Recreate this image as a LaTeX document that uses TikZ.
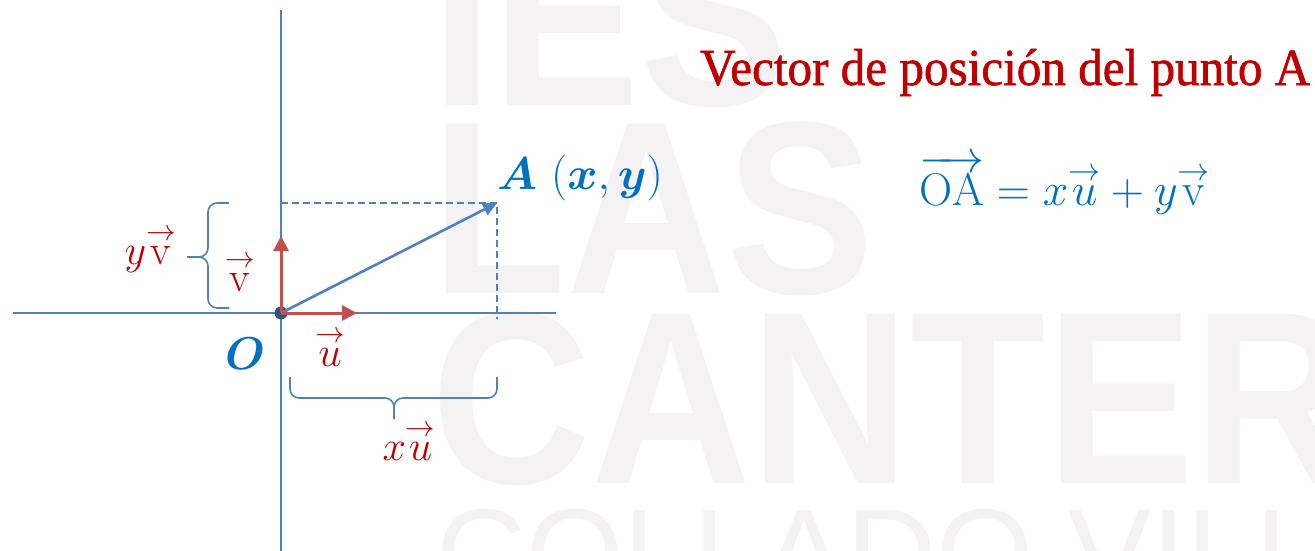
\RequirePackage{fix-cm}
\documentclass[tikz,border=0pt]{standalone}
\usepackage{amsmath,bm}
\usepackage{fontspec}
\usetikzlibrary{arrows.meta}
\newfontfamily\wmfont{Liberation Sans}
\newfontfamily\titlefont[FakeBold=1.2]{Liberation Serif}
\newcommand{\arr}[1]{\overset{\scriptstyle\rightarrow}{#1}}
\definecolor{axisblue}{RGB}{79,129,189}
\definecolor{txtblue}{RGB}{0,112,192}
\definecolor{txtred}{RGB}{192,0,0}
\definecolor{arrred}{RGB}{192,80,77}
\definecolor{dotblue}{RGB}{46,84,130}
\definecolor{wmgray}{RGB}{244,242,243}
\tikzset{
  wm/.style={text=wmgray, inner sep=0pt, font=\wmfont\bfseries\fontsize{246}{250}\selectfont, xscale=0.9},
  wmthin/.style={text=wmgray, inner sep=0pt, font=\wmfont\fontsize{125}{130}\selectfont},
  axis/.style={draw=axisblue, line width=1.6pt},
  redvec/.style={draw=arrred, line width=3pt, -{Triangle[length=15pt,width=15pt]}},
  bluevec/.style={draw=axisblue, line width=2.6pt, -{Triangle[length=14pt,width=13pt]}},
  guide/.style={draw=axisblue, line width=1.4pt, dash pattern=on 7pt off 4pt},
  bracestyle/.style={draw=axisblue, line width=1.6pt, rounded corners=9pt},
  redlbl/.style={text=txtred, inner sep=0pt, font=\fontsize{42}{46}\selectfont},
  bluelbl/.style={text=txtblue, inner sep=0pt, font=\fontsize{46}{50}\selectfont},
}
\begin{document}
\begin{tikzpicture}[x=1pt,y=-1pt]
\useasboundingbox (0,0) rectangle (1315,551);
\fill[white] (0,0) rectangle (1315,551);
% watermark
\begin{scope}
\clip (0,0) rectangle (1315,551);
\node[wm, anchor=base west] (wm1) at (431,105) {IES};
\node[wm, anchor=base west] (wm2) at (431,293) {LAS};
\node[wm, anchor=base west] (wm3) at (431,483) {CANTERAS};
\node[wmthin, anchor=base west] (wm4) at (436,596) {COLLADO VILLALBA};
\end{scope}
% coordinates
\coordinate (O) at (281,313);
\coordinate (ytop) at (281,10);
\coordinate (ybot) at (281,551);
\coordinate (xl) at (13,313);
\coordinate (xr) at (556,313);
\coordinate (U) at (357,313);
\coordinate (V) at (281,236);
\coordinate (A) at (497,203);
\coordinate (Ay) at (281,203);
\coordinate (Ax) at (497,319);
% axes
\draw[axis] (ytop) -- (ybot);
\draw[axis] (xl) -- (xr);
% guides
\draw[guide] (Ay) -- (A) -- (Ax);
% origin dot
\fill[dotblue] (O) circle (6.5pt);
% vectors
\draw[bluevec] (O) -- (A);
\draw[redvec] (O) -- (U);
\draw[redvec] (O) -- (V);
% left brace
\coordinate (lb1) at (229,203);
\coordinate (lb2) at (229,308);
\coordinate (lbtip) at (187,257);
\draw[bracestyle] (lb1) -- (208,203) -- (208,257) -- (lbtip);
\draw[bracestyle] (lb2) -- (208,308) -- (208,257) -- (lbtip);
% bottom brace
\coordinate (bb1) at (290,377);
\coordinate (bb2) at (497,377);
\coordinate (bbtip) at (394,419);
\draw[bracestyle] (bb1) -- (290,398) -- (394,398) -- (bbtip);
\draw[bracestyle] (bb2) -- (497,398) -- (394,398) -- (bbtip);
% labels
\node[redlbl, anchor=base] (lyv) at (150,264) {$y\arr{\mathrm{v}}$};
\node[redlbl, anchor=base] (lv) at (240,291) {$\arr{\mathrm{v}}$};
\node[redlbl, anchor=base] (lu) at (330,366) {$\arr{u}$};
\node[redlbl, anchor=base] (lxu) at (409,460) {$x\arr{u}$};
\node[bluelbl, anchor=base] (lO) at (245,369) {$\bm{O}$};
\node[bluelbl, anchor=base west] (lA) at (497,189) {$\bm{A}\ (\bm{x},\bm{y})$};
\node[bluelbl, anchor=base west] (eq) at (919,205) {$\overrightarrow{\mathrm{OA}}=x\arr{u}+y\arr{\mathrm{v}}$};
\node[text=txtred, inner sep=0pt, anchor=base west, font=\titlefont\fontsize{52}{56}\selectfont, xscale=0.945] (title) at (700,85) {Vector de posición del punto A};
\end{tikzpicture}
\end{document}
